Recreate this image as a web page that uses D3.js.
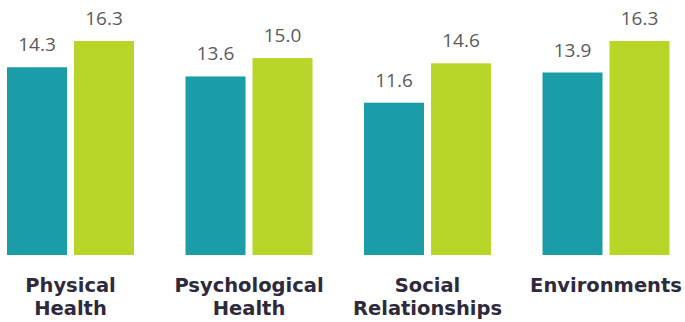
<!DOCTYPE html>
<html>
<head>
<meta charset="utf-8">
<script src="https://cdn.jsdelivr.net/npm/d3@7"></script>
<style>
  html, body { margin: 0; padding: 0; background: #ffffff; }
  svg { display: block; }
</style>
</head>
<body>
<svg id="chart" width="685" height="322"></svg>
<script>
// Domain scores per category, two series side by side
const categories = [
  ["Physical", "Health"],
  ["Psychological", "Health"],
  ["Social", "Relationships"],
  ["Environments"]
];
const seriesNames = ["A", "B"];
const seriesA = [14.3, 13.6, 11.6, 13.9];
const seriesB = [16.3, 15.0, 14.6, 16.3];
const seriesColors = ["#1a9da6", "#b8d62a"];

const svg = d3.select("#chart");
const catKeys = categories.map(c => c.join(" "));

const rows = catKeys.map((k, i) => ({
  key: k,
  lines: categories[i],
  values: [seriesA[i], seriesB[i]]
}));

// Outer band: one group per category
const x0 = d3.scaleBand()
  .domain(catKeys)
  .range([-18.75, 695.25])
  .paddingInner(0.2885)
  .paddingOuter(0.14425);

// Inner band: the two bars inside a group
const x1 = d3.scaleBand()
  .domain(seriesNames)
  .range([0, x0.bandwidth()])
  .paddingInner(0.1045);

const baseY = 255;
const y = d3.scaleLinear()
  .domain([0, d3.max(seriesB.concat(seriesA))])
  .range([baseY, 41]);

const groups = svg.selectAll("g.group")
  .data(rows)
  .join("g")
  .attr("class", "group")
  .attr("transform", d => `translate(${x0(d.key)},0)`);

const bars = groups.selectAll("g.bar")
  .data(d => d.values.map((v, j) => ({ v, s: seriesNames[j], j })))
  .join("g")
  .attr("class", "bar");

bars.append("rect")
  .attr("x", d => x1(d.s))
  .attr("y", d => y(d.v))
  .attr("width", x1.bandwidth())
  .attr("height", d => baseY - y(d.v))
  .attr("fill", d => seriesColors[d.j]);

bars.append("text")
  .attr("x", d => x1(d.s) + x1.bandwidth() / 2)
  .attr("y", d => y(d.v) - 16)
  .attr("text-anchor", "middle")
  .attr("font-family", "'Open Sans', sans-serif")
  .attr("font-weight", 400)
  .attr("font-size", 19)
  .attr("fill", "#5a5a5a")
  .text(d => d.v.toFixed(1));

// Category labels below the bars
const labels = groups.append("text")
  .attr("x", x0.bandwidth() / 2)
  .attr("y", 292)
  .attr("text-anchor", "middle")
  .attr("font-family", "'DejaVu Sans', sans-serif")
  .attr("font-weight", 700)
  .attr("font-size", 19.5)
  .attr("fill", "#2e2a3c");

labels.selectAll("tspan")
  .data(d => d.lines)
  .join("tspan")
  .attr("x", x0.bandwidth() / 2)
  .attr("dy", (d, i) => i === 0 ? 0 : 23)
  .text(d => d);
</script>
</body>
</html>
